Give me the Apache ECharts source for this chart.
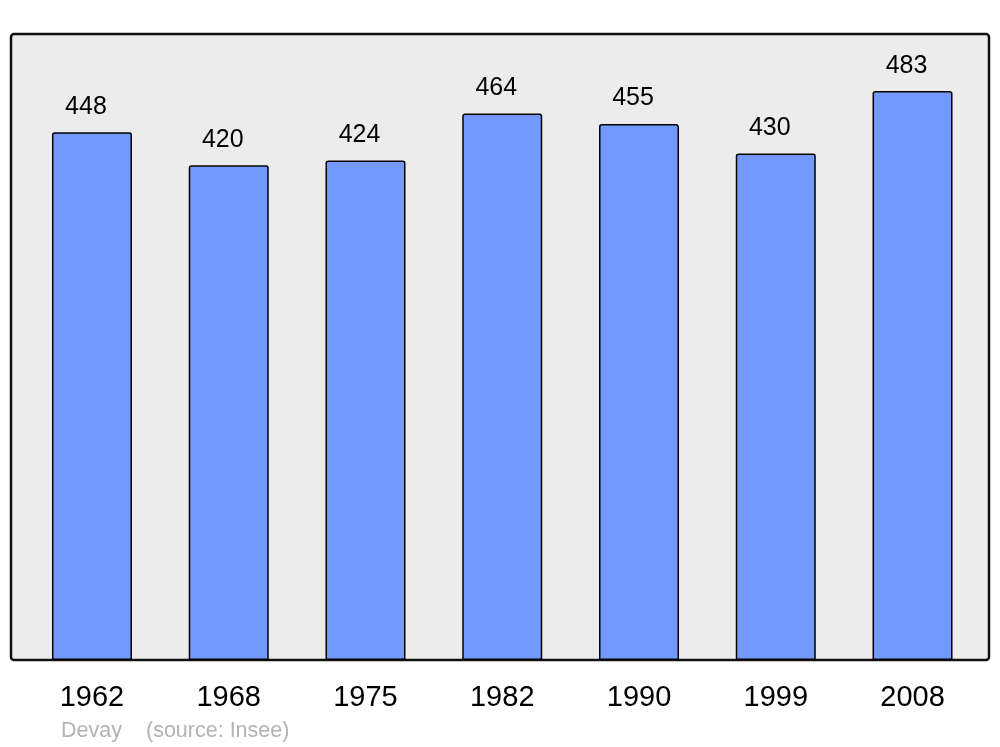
<!DOCTYPE html>
<html>
<head>
<meta charset="utf-8">
<style>html,body{margin:0;padding:0;background:#fff;}#c{width:1000px;height:747px;}</style>
<script src="https://cdn.jsdelivr.net/npm/echarts@6/dist/echarts.min.js"></script>
</head>
<body>
<div id="c"></div>
<script>
const years = ['1962', '1968', '1975', '1982', '1990', '1999', '2008'];
const population = [448, 420, 424, 464, 455, 430, 483];
const author = 'Devay';
const source = '(source: Insee)';

const FONT = 'Liberation Sans, Arial, sans-serif';
const chart = echarts.init(document.getElementById('c'), null, {renderer: 'canvas'});
chart.setOption({
  animation: false,
  backgroundColor: '#ffffff',
  textStyle: {fontFamily: FONT},
  graphic: [
    {type: 'rect', z: -10, shape: {x: 11, y: 34, width: 978, height: 626, r: 3},
     style: {fill: '#ececec', stroke: '#111111', lineWidth: 2.5}},
    {type: 'text', left: 61, top: 720,
     style: {text: author, fill: '#b3b3b3', fontSize: 21.5, fontFamily: FONT}},
    {type: 'text', left: 146, top: 720,
     style: {text: source, fill: '#b3b3b3', fontSize: 21.5, fontFamily: FONT}}
  ],
  grid: {left: 23.6, right: 19.1, top: 34, bottom: 87, containLabel: false},
  xAxis: {
    type: 'category', data: years,
    axisLine: {show: false}, axisTick: {show: false},
    axisLabel: {fontSize: 29, color: '#000', margin: 23, fontFamily: FONT}
  },
  yAxis: {type: 'value', min: 0, max: 531.5, show: false, splitLine: {show: false}},
  series: [{
    type: 'bar', data: population, barWidth: 80,
    itemStyle: {color: '#7399ff', borderColor: '#000', borderWidth: 1.5, borderRadius: [2, 2, 0, 0]},
    label: {show: true, position: 'top', distance: 13, offset: [-6, 0], fontSize: 25, color: '#000',
            fontFamily: FONT}
  }]
});
</script>
</body>
</html>
